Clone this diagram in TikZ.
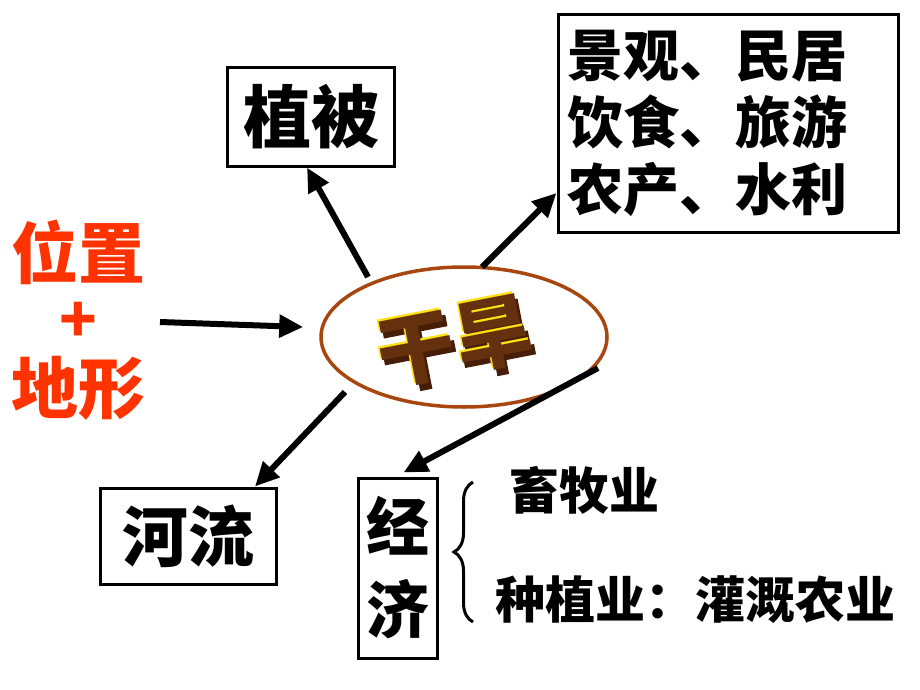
\documentclass[tikz,border=0pt]{standalone}
\usepackage{fontspec}
\newfontfamily\cjk{Noto Sans CJK SC}
\newfontfamily\cjkfat[FakeBold=2.5]{Noto Sans CJK SC Bold}
\usetikzlibrary{arrows.meta,shapes.geometric,calc,decorations.pathreplacing}
\definecolor{redtxt}{RGB}{255,51,0}
\definecolor{ellbrown}{RGB}{168,70,15}
\definecolor{gfront}{RGB}{100,48,14}
\definecolor{gdepth}{RGB}{70,30,8}
\definecolor{gyellow}{RGB}{255,225,20}
\begin{document}
\begin{tikzpicture}[x=1pt,y=-1pt,
  box/.style={draw=black, line width=3pt, inner sep=0pt, font=\cjk\bfseries},
  arr/.style={line width=6pt, -{Triangle[length=24pt,width=22pt]}},
  redlbl/.style={text=redtxt, inner sep=0pt, font=\cjk\bfseries\fontsize{67}{70}\selectfont},
  sidelbl/.style={inner sep=0pt, font=\cjk\bfseries\fontsize{50}{56}\selectfont},
  gan/.style={inner sep=0pt, rotate=11, font=\cjk\bfseries\fontsize{78}{80}\selectfont}]
\fill[white] (0,0) rectangle (920,690);
\useasboundingbox (0,0) rectangle (920,690);

% boxes
\node[box, minimum width=167pt, minimum height=98pt, font=\cjk\bfseries\fontsize{68}{72}\selectfont] (zb) at (311,117) {植被};
\node[box, text width=322pt, inner xsep=9pt, minimum height=217pt, align=left,
      font=\cjk\bfseries\fontsize{56}{67}\selectfont] (tr) at (728,123.5) {景观、民居\\饮食、旅游\\农产、水利};
\node[box, minimum width=176pt, minimum height=96pt, font=\cjk\bfseries\fontsize{66}{70}\selectfont] (hl) at (188,536) {河流};
\node[box, minimum width=79pt, minimum height=180pt, align=center, font=\cjk\bfseries\fontsize{63}{83}\selectfont] (jj) at (397.5,568) {经\\济};

% left red labels
\node[redlbl] (wz) at (78,252) {位置};
\node[redlbl, font=\cjk\bfseries\fontsize{62}{64}\selectfont] (plus) at (78,322) {+};
\node[redlbl] (dx) at (78,388) {地形};

% central ellipse
\node[ellipse, draw=ellbrown, line width=3.5pt, minimum width=286pt, minimum height=140pt, inner sep=0pt] (el) at (464,337) {};

% 3D word art 干旱
\node[gan, text=gdepth, font=\cjkfat\fontsize{78}{80}\selectfont] (gshadow) at (458,347) {干旱};
\node[gan, text=gyellow] (glight) at (453,340) {干旱};
\node[gan, text=gfront] (ganhan) at (455,342) {干旱};

% side labels
\node[sidelbl] (xm) at (584,490) {畜牧业};
\node[sidelbl] (zz) at (695,600) {种植业：灌溉农业};
\draw[line width=3pt, decorate, decoration={brace, amplitude=19pt}] (473,622) -- (473,482);

% arrow start points
\coordinate (s0) at (160,322);
\coordinate (s1) at (368,277);
\coordinate (s2) at (482,267);
\coordinate (s3) at (345,392);
\coordinate (s4) at (598,368);

\draw[arr] (s0) -- ($(el.west)+(-16,-10)$);
\draw[arr] (s1) -- ($(zb.south)+(-4,0)$);
\draw[arr] (s2) -- ($(tr.west)+(0,69.5)$);
\draw[arr] (s3) -- ($(hl.north)+(67,0)$);
\draw[arr] (s4) -- ($(jj.north)+(6,-4)$);
\end{tikzpicture}
\end{document}
